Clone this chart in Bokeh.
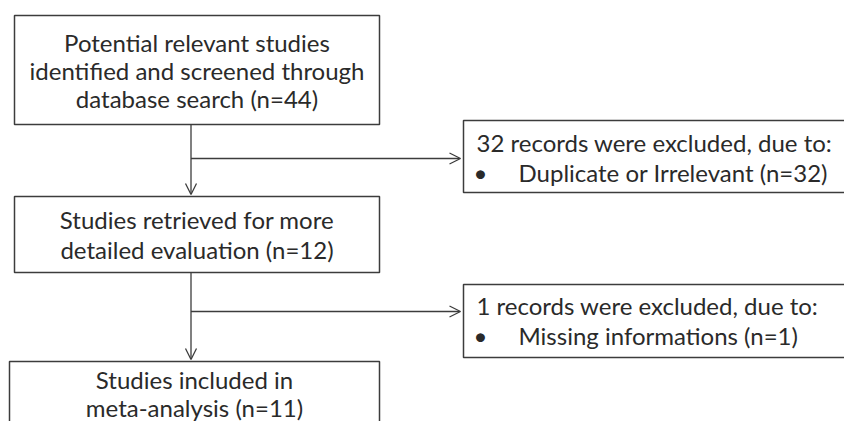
from bokeh.plotting import figure
from bokeh.models import Range1d, Arrow, OpenHead
from bokeh.core.properties import value
from bokeh.embed import file_html
from bokeh.resources import INLINE

# ---- data ----
identified = 44
excluded_first = 32
retrieved = 12
excluded_second = 1
included = 11

stage_lines = [
    ["Potential relevant studies", "identified and screened through", f"database search (n={identified})"],
    ["Studies retrieved for more", f"detailed evaluation (n={retrieved})"],
    ["Studies included in", f"meta-analysis (n={included})"],
]
exclusion_heads = [f"{excluded_first} records were excluded, due to:",
                   f"{excluded_second} records were excluded, due to:"]
exclusion_items = [f"Duplicate or Irrelevant (n={excluded_first})",
                   f"Missing informations (n={excluded_second})"]

# ---- layout (pixel coordinates of the drawing) ----
W, H = 844, 421
main_l = [14, 14, 9]
main_r = [379, 379, 379]
main_t = [15, 196, 361]
main_b = [124, 272, 460]
main_baselines = [[42, 70, 98], [219, 249], [379, 407]]
side_l = [463, 463]
side_r = [880, 880]
side_t = [120, 284]
side_b = [192, 357]
side_baselines = [[142, 172], [305, 335]]
spine_x = 190.5
branch_y = [158, 311]

FONT = value("Lato")
FS = "24px"
LINE = "#3c3c3c"
TXT = "#2a2a2a"

p = figure(width=W, height=H, output_backend="svg", toolbar_location=None,
           x_range=Range1d(0, W), y_range=Range1d(H, 0),
           x_axis_type=None, y_axis_type=None, min_border=0,
           outline_line_color=None, background_fill_color="white",
           border_fill_color="white")
p.grid.visible = False

# connectors
for i in range(2):
    p.add_layout(Arrow(end=OpenHead(size=11, line_color=LINE, line_width=1.3),
                       x_start=spine_x, y_start=main_b[i], x_end=spine_x, y_end=main_t[i + 1] - 2,
                       line_color=LINE, line_width=1.3))
    p.add_layout(Arrow(end=OpenHead(size=11, line_color=LINE, line_width=1.3),
                       x_start=spine_x, y_start=branch_y[i], x_end=side_l[i] - 3, y_end=branch_y[i],
                       line_color=LINE, line_width=1.3))

# boxes
p.quad(left=main_l, right=main_r, top=main_t, bottom=main_b,
       fill_color="white", line_color=LINE, line_width=1.5)
p.quad(left=side_l, right=side_r, top=side_t, bottom=side_b,
       fill_color="white", line_color=LINE, line_width=1.5)

# main box texts
mx, my, mt = [], [], []
for i, lines in enumerate(stage_lines):
    for j, t in enumerate(lines):
        mx.append((main_l[i] + main_r[i]) / 2)
        my.append(main_baselines[i][j])
        mt.append(t)
p.text(x=mx, y=my, text=mt, text_align="center", text_baseline="alphabetic",
       text_font=FONT, text_font_size=FS, text_color=TXT)

# side box texts
sx, sy, st = [], [], []
bx, by = [], []
ix, iy, it = [], [], []
for i in range(2):
    sx.append(side_l[i] + 13); sy.append(side_baselines[i][0]); st.append(exclusion_heads[i])
    bx.append(side_l[i] + 17); by.append(side_baselines[i][1])
    ix.append(side_l[i] + 55); iy.append(side_baselines[i][1]); it.append(exclusion_items[i])
p.text(x=sx, y=sy, text=st, text_align="left", text_baseline="alphabetic",
       text_font=FONT, text_font_size=FS, text_color=TXT)
p.text(x=bx, y=by, text=["•"] * 2, text_align="center", text_baseline="alphabetic",
       text_font=FONT, text_font_size=FS, text_color=TXT)
p.text(x=ix, y=iy, text=it, text_align="left", text_baseline="alphabetic",
       text_font=FONT, text_font_size=FS, text_color=TXT)

open("out.html", "w").write(file_html(p, INLINE))
